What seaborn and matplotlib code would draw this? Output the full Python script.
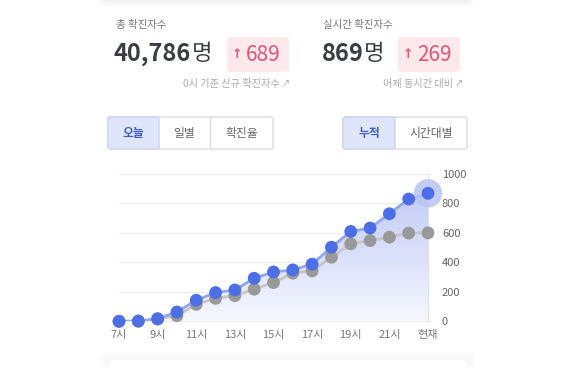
import numpy as np
import pandas as pd
import seaborn as sns
import matplotlib.pyplot as plt
from matplotlib.patches import FancyBboxPatch, Polygon

# data
hours = ['7시', '8시', '9시', '10시', '11시', '12시', '13시', '14시', '15시',
         '16시', '17시', '18시', '19시', '20시', '21시', '22시', '현재']
today = [0, 2, 18, 63, 143, 195, 213, 292, 335, 349, 388, 503, 610, 633, 730, 830, 869]
yesterday = [0, 0, 14, 38, 115, 156, 174, 218, 263, 327, 342, 435, 526, 548, 571, 599, 600]
tick_labels = ['7시', '', '9시', '', '11시', '', '13시', '', '15시', '', '17시', '',
               '19시', '', '21시', '', '현재']

W, H = 571, 367
sns.set_style('white')
plt.rcParams['font.family'] = ['Noto Sans CJK KR', 'DejaVu Sans']

fig = plt.figure(figsize=(W / 100, H / 100), dpi=100)
fig.patch.set_facecolor('white')


def fx(x):
    return x / W


def fy(y):
    return 1 - y / H


def ftext(x, y, s, **kw):
    fig.text(fx(x), fy(y), s, **kw)


def box(x0, y0, x1, y1, fc, ec='none', r=4, lw=1, alpha=1):
    p = FancyBboxPatch((fx(x0), fy(y1)), fx(x1 - x0), (y1 - y0) / H,
                       boxstyle=f'round,pad=0,rounding_size={r / W}',
                       transform=fig.transFigure, fc=fc, ec=ec, lw=lw, alpha=alpha)
    fig.patches.append(p)


# soft shadows of the neighbouring cards
for i in range(8):
    box(104 - i, -30, 467 + i, 1 + i * 0.9, 'black', r=8, alpha=0.006)
for i in range(10):
    box(108 - i, 360 - i, 467 + i, 400, 'black', r=8, alpha=0.005)
box(108, 360, 467, 400, 'white', r=6)

# header numbers
ftext(116, 25, '총 확진자수', fontsize=7.5, color='#777777', va='center')
ftext(323, 25, '실시간 확진자수', fontsize=7.5, color='#777777', va='center')
ftext(114, 54, '40,786', fontsize=17, fontweight='bold', color='#3a3d42', va='center')
ftext(192, 54, '명', fontsize=16, color='#3a3d42', va='center')
ftext(322, 54, '869', fontsize=17, fontweight='bold', color='#3a3d42', va='center')
ftext(364, 54, '명', fontsize=16, color='#3a3d42', va='center')
box(227, 37, 289, 72, '#fde8ec', r=5)
box(398, 37, 460, 72, '#fde8ec', r=5)
ftext(237, 55, '↑', fontsize=9, color='#e05578', va='center', ha='center',
      fontweight='bold', family='DejaVu Sans')
ftext(246, 55, '689', fontsize=15, color='#e05578', va='center')
ftext(408, 55, '↑', fontsize=9, color='#e05578', va='center', ha='center',
      fontweight='bold', family='DejaVu Sans')
ftext(417, 55, '269', fontsize=15, color='#e05578', va='center')
ftext(280, 84, '0시 기준 신규 확진자수', fontsize=7.3, color='#aaaaaa', va='center', ha='right')
ftext(453, 84, '어제 동시간 대비', fontsize=7.3, color='#aaaaaa', va='center', ha='right')
ftext(282, 83, '↗', fontsize=7, color='#aaaaaa', va='center', family='DejaVu Sans')
ftext(455, 83, '↗', fontsize=7, color='#aaaaaa', va='center', family='DejaVu Sans')

# tab buttons
box(108, 117, 273, 149, 'white', ec='#dcdcdc', r=3)
box(108, 117, 159, 149, '#dfe6fb', ec='#c9d3f3', r=3)
box(343, 117, 467, 149, 'white', ec='#dcdcdc', r=3)
box(343, 117, 395, 149, '#dfe6fb', ec='#c9d3f3', r=3)
fig.lines.append(plt.Line2D([fx(210)] * 2, [fy(118), fy(148)], transform=fig.transFigure,
                            color='#dcdcdc', lw=1))
ftext(133.5, 133, '오늘', fontsize=8.5, color='#3f5bd0', fontweight='bold', ha='center', va='center')
ftext(184.5, 133, '일별', fontsize=8.5, color='#666666', ha='center', va='center')
ftext(241.5, 133, '확진율', fontsize=8.5, color='#666666', ha='center', va='center')
ftext(369, 133, '누적', fontsize=8.5, color='#3f5bd0', fontweight='bold', ha='center', va='center')
ftext(431, 133, '시간대별', fontsize=8.5, color='#666666', ha='center', va='center')

# chart
ax = fig.add_axes([fx(119), fy(321.3), fx(428 - 119), (321.3 - 174) / H])
ax.set_facecolor('none')
df = pd.DataFrame({'x': np.arange(len(hours)), 'today': today, 'yesterday': yesterday})
n = len(hours)
ax.set_xlim(0, n - 1)
ax.set_ylim(0, 1000)

# gradient fill under today's line
grad = np.linspace(0, 1, 256).reshape(-1, 1)
top = np.array([0.74, 0.78, 0.96])
bot = np.array([0.97, 0.975, 1.0])
img = bot + (top - bot) * grad[..., None] ** 0.9
im = ax.imshow(img, extent=[0, n - 1, 0, 1000], origin='lower', aspect='auto', zorder=1)
poly = Polygon(np.column_stack([np.r_[df['x'], n - 1, 0], np.r_[df['today'], 0, 0]]),
               transform=ax.transData, fc='none', ec='none')
ax.add_patch(poly)
im.set_clip_path(poly)

for v in range(0, 1001, 200):
    ax.axhline(v, color='#ececec', lw=0.8, zorder=0, xmax=1.006, clip_on=False)

sns.lineplot(data=df, x='x', y='yesterday', ax=ax, color='#c6c6c6', lw=2, zorder=3)
sns.scatterplot(data=df, x='x', y='yesterday', ax=ax, color='#999999', s=85,
                edgecolor='none', zorder=4, clip_on=False)
sns.lineplot(data=df, x='x', y='today', ax=ax, color='#93a5ee', lw=2, zorder=5)
ax.scatter(df['x'].iloc[-1], df['today'].iloc[-1], s=420, color='#b9c5f3', alpha=0.85,
           edgecolor='none', zorder=5, clip_on=False)
sns.scatterplot(data=df, x='x', y='today', ax=ax, color='#4c6fe6', s=85,
                edgecolor='none', zorder=6, clip_on=False)

for s in ['top', 'left', 'bottom']:
    ax.spines[s].set_visible(False)
ax.spines['right'].set_color('#e3e3e3')
ax.spines['right'].set_linewidth(0.8)
ax.yaxis.tick_right()
ax.set_yticks(range(0, 1001, 200))
ax.tick_params(axis='y', length=0, pad=10, labelsize=8, labelcolor='#666666')
ax.set_xticks(df['x'])
ax.set_xticklabels(tick_labels)
ax.tick_params(axis='x', length=0, pad=6, labelsize=8, labelcolor='#777777')
ax.set_xlabel('')
ax.set_ylabel('')

fig.savefig('out.png', dpi=100, facecolor='white')
